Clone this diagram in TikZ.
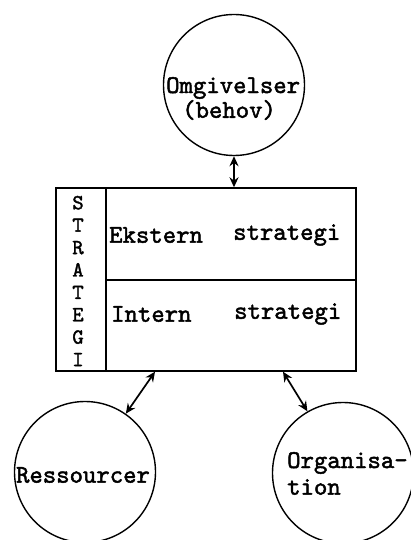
\documentclass[tikz,border=0pt]{standalone}
\usepackage{fontspec}
\newfontfamily\twfont{lmmono10-regular.otf}[FakeBold=1.8]
\usetikzlibrary{calc,arrows.meta}
\begin{document}
\begin{tikzpicture}[x=1pt,y=-1pt,
  lbl/.style={font=\twfont\fontsize{25.5}{27}\selectfont, inner sep=0pt},
  ball/.style={circle, draw, line width=1.4pt, minimum size=141pt, inner sep=0pt},
  link/.style={line width=1.7pt, {Stealth[length=10pt,width=9pt]}-{Stealth[length=10pt,width=9pt]}}]
\useasboundingbox (0,0) rectangle (411,540);
\node[ball] (omg) at (234,85) {};
\node[ball] (res) at (85,472) {};
\node[ball] (org) at (343,473) {};
\node[draw, line width=1.4pt, minimum width=300pt, minimum height=183pt, inner sep=0pt] (box) at (206,279.5) {};
\coordinate (vtop) at (106,188);
\coordinate (vbot) at (106,371);
\draw[line width=1.4pt] (vtop) -- (vbot);
\coordinate (hl) at (106,280);
\draw[line width=1.4pt] (hl) -- (hl -| box.east);
% texts
\node[lbl, anchor=west] (t1) at (166,88) {Omgivelser};
\node[lbl, anchor=west] (t2) at (182,110) {(behov)};
\node[lbl, anchor=west] (e1) at (109,235) {Ekstern};
\node[lbl, anchor=west] (e2) at (233,235) {strategi};
\node[lbl, anchor=west] (i1) at (111,314) {Intern};
\node[lbl, anchor=west] (i2) at (234,314) {strategi};
\node[lbl] (r) at (83,475) {Ressourcer};
\node[lbl, anchor=west] (o1) at (287,463) {Organisa-};
\node[lbl, anchor=west] (o2) at (287,487) {tion};
\node[lbl, align=center, font=\twfont\fontsize{21.5}{22.4}\selectfont] (s) at (78,281) {S\\T\\R\\A\\T\\E\\G\\I};
% connectors
\draw[link] (omg.south) -- (omg.south |- box.north);
\draw[link] ($(box.south)+(-51,0)$) -- (res.55);
\draw[link] ($(box.south)+(77,0)$) -- (org.120);
\end{tikzpicture}
\end{document}
